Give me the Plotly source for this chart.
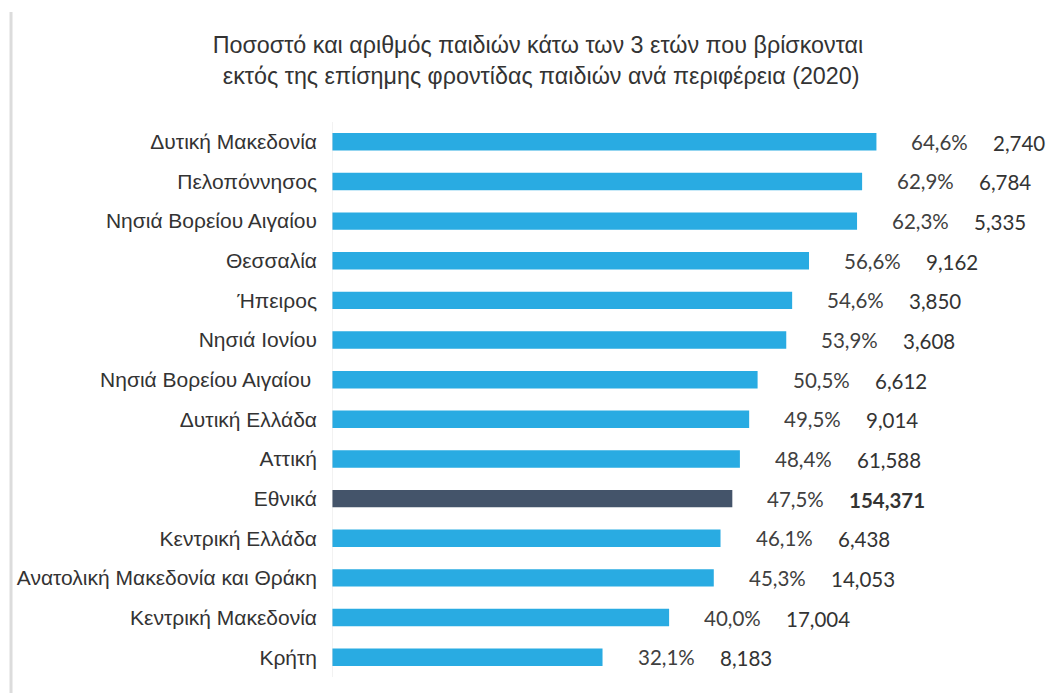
import plotly.graph_objects as go

# Regions, top to bottom
regions = [
    "Δυτική Μακεδονία",
    "Πελοπόννησος",
    "Νησιά Βορείου Αιγαίου",
    "Θεσσαλία",
    "Ήπειρος",
    "Νησιά Ιονίου",
    "Νησιά Βορείου Αιγαίου ",
    "Δυτική Ελλάδα",
    "Αττική",
    "Εθνικά",
    "Κεντρική Ελλάδα",
    "Ανατολική Μακεδονία και Θράκη",
    "Κεντρική Μακεδονία",
    "Κρήτη",
]
# Share of children under 3 outside formal childcare (%)
percent = [64.6, 62.9, 62.3, 56.6, 54.6, 53.9, 50.5, 49.5, 48.4, 47.5, 46.1, 45.3, 40.0, 32.1]
# Number of children
children = [2740, 6784, 5335, 9162, 3850, 3608, 6612, 9014, 61588, 154371, 6438, 14053, 17004, 8183]

national = "Εθνικά"
BLUE = "#29abe2"
SLATE = "#44546a"

colors = [SLATE if r == national else BLUE for r in regions]

fig = go.Figure(
    go.Bar(
        x=percent,
        y=regions,
        orientation="h",
        marker=dict(color=colors, line=dict(width=0)),
        hoverinfo="skip",
    )
)

label_font = dict(family="Lato, Carlito, Calibri, sans-serif", size=20.5)
for r, p, n in zip(regions, percent, children):
    pct_txt = f"{p:.1f}%".replace(".", ",")
    num_txt = f"{n:,}"
    if r == national:
        num_txt = f"<b>{num_txt}</b>"
    fig.add_annotation(
        x=p, y=r, xref="x", yref="y", text=pct_txt, showarrow=False,
        xanchor="left", xshift=33, font=dict(color="#404040", **label_font),
    )
    fig.add_annotation(
        x=p, y=r, xref="x", yref="y", text=num_txt, showarrow=False,
        xanchor="left", xshift=115, yshift=-1, font=dict(color="#333333", **label_font),
    )

# Thin grey rule along the left edge of the chart frame
fig.add_shape(
    type="line", xref="paper", yref="paper",
    x0=-0.4403, x1=-0.4403, y0=-0.03, y1=1.198,
    line=dict(color="#dcdcdc", width=3),
)

fig.update_layout(
    width=1061,
    height=693,
    margin=dict(l=332, r=0, t=122, b=16),
    paper_bgcolor="white",
    plot_bgcolor="white",
    showlegend=False,
    bargap=0.56,
    title=dict(
        text="Ποσοστό και αριθμός παιδιών κάτω των 3 ετών που βρίσκονται<br> εκτός της επίσημης φροντίδας παιδιών ανά περιφέρεια (2020)",
        xref="container", yref="container",
        x=0.507, y=0.923, xanchor="center", yanchor="top",
        font=dict(family="Liberation Sans, Arial, sans-serif", size=23.3, color="#333333"),
    ),
    xaxis=dict(
        range=[0, 86.5],
        visible=False,
        fixedrange=True,
    ),
    yaxis=dict(
        autorange="reversed",
        showgrid=False,
        zeroline=False,
        showline=False,
        ticks="",
        ticklabelstandoff=14,
        tickfont=dict(family="Liberation Sans, Arial, sans-serif", size=21, color="#333333"),
    ),
)

# Faint baseline at zero
fig.add_shape(
    type="line", xref="x", yref="paper",
    x0=0, x1=0, y0=0, y1=1,
    line=dict(color="#e6e6e6", width=1),
)

fig.write_html("out.html")
